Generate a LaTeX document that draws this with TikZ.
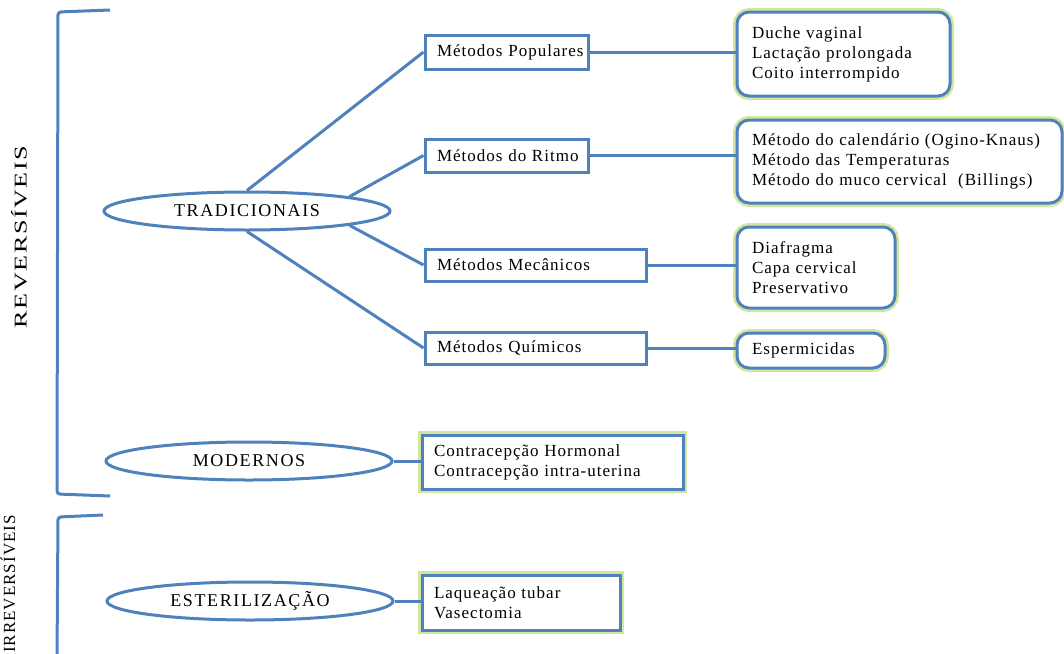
\documentclass[tikz,border=0pt]{standalone}
\usepackage{fontspec}
\setmainfont{Liberation Serif}[LetterSpace=6]
\usetikzlibrary{shapes.geometric}
\definecolor{bl}{HTML}{4F81BD}
\definecolor{glowc}{RGB}{210,230,160}
\newcommand{\oneline}[1]{\mbox{#1}}
\begin{document}
\begin{tikzpicture}[x=1pt,y=-1pt,
  every node/.style={font=\fontsize{17}{20}\selectfont},
  conn/.style={draw=bl, line width=3pt},
  oval/.style={ellipse, draw=bl, line width=3pt, minimum width=286pt, minimum height=38pt, inner sep=0pt,
    font=\fontsize{18}{20}\selectfont\addfontfeature{LetterSpace=9}},
  box/.style={draw=bl, line width=3pt, fill=white, inner xsep=#1, align=left, anchor=center, inner ysep=0pt},
  box/.default=12pt,
  glow/.style={preaction={draw=glowc, line width=8pt}},
  rbox/.style={box=15pt, rounded corners=12pt, glow}
]
\useasboundingbox (0,0) rectangle (1064,653);
% brackets
\draw[conn, rounded corners=3pt] (110,10) -- (58,12) -- (57,494) -- (110,496);
\draw[conn, rounded corners=3pt] (103,515) -- (58,517) -- (57,660);
\node[rotate=90, font=\fontsize{18}{20}\selectfont] (rev) at (19,237) {\scalebox{1.45}[1]{REVERSÍVEIS}};
\node[rotate=90] (irr) at (8,584) {IRREVERSÍVEIS};
% ellipses
\node[oval] (trad) at (247,211) {TRADICIONAIS};
\node[oval] (mod) at (249,461) {MODERNOS};
\node[oval] (est) at (250,601) {ESTERILIZAÇÃO};
% method boxes
\node[box, minimum width=163pt, minimum height=34pt, text width=139pt] (pop) at (506.5,52) {\oneline{Métodos Populares}};
\node[box, minimum width=163pt, minimum height=33pt, text width=139pt] (rit) at (506.5,155.5) {\oneline{Métodos do Ritmo}};
\node[box, minimum width=221pt, minimum height=32pt, text width=197pt] (mec) at (535.5,265) {\oneline{Métodos Mecânicos}};
\node[box, minimum width=221pt, minimum height=32pt, text width=197pt] (qui) at (535.5,348) {\oneline{Métodos Químicos}};
\node[box, glow, minimum width=261pt, minimum height=54pt, text width=237pt] (con) at (552.5,462) {\oneline{Contracepção Hormonal}\\\oneline{Contracepção intra-uterina}};
\node[box, glow, minimum width=198pt, minimum height=55pt, text width=174pt] (laq) at (521,602.5) {\oneline{Laqueação tubar}\\\oneline{Vasectomia}};
% detail boxes
\node[rbox, minimum width=213pt, minimum height=84pt, text width=183pt] (duc) at (843.5,54) {\oneline{Duche vaginal}\\\oneline{Lactação prolongada}\\\oneline{Coito interrompido}};
\node[rbox, minimum width=325pt, minimum height=83pt, text width=295pt] (cal) at (899.5,161.5) {\oneline{Método do calendário (Ogino-Knaus)}\\\oneline{Método das Temperaturas}\\\oneline{Método do muco cervical\ \ (Billings)}};
\node[rbox, minimum width=158pt, minimum height=81pt, text width=128pt] (dia) at (816,267.5) {\oneline{Diafragma}\\\oneline{Capa cervical}\\\oneline{Preservativo}};
\node[rbox, minimum width=148pt, minimum height=35pt, text width=118pt] (esp) at (811,350.5) {\oneline{Espermicidas}};
% connectors
\draw[conn] (trad.90) -- (pop.west);
\draw[conn] (trad.8) -- (rit.west);
\draw[conn] (trad.-8) -- (mec.west);
\draw[conn] (trad.-90) -- (qui.west);
\draw[conn] (pop.east) -- (pop.east -| duc.west);
\draw[conn] (rit.east) -- (rit.east -| cal.west);
\draw[conn] (mec.east) -- (mec.east -| dia.west);
\draw[conn] (qui.east) -- (qui.east -| esp.west);
\draw[conn] (mod.east) -- (mod.east -| con.west);
\draw[conn] (est.east) -- (est.east -| laq.west);
\end{tikzpicture}
\end{document}
